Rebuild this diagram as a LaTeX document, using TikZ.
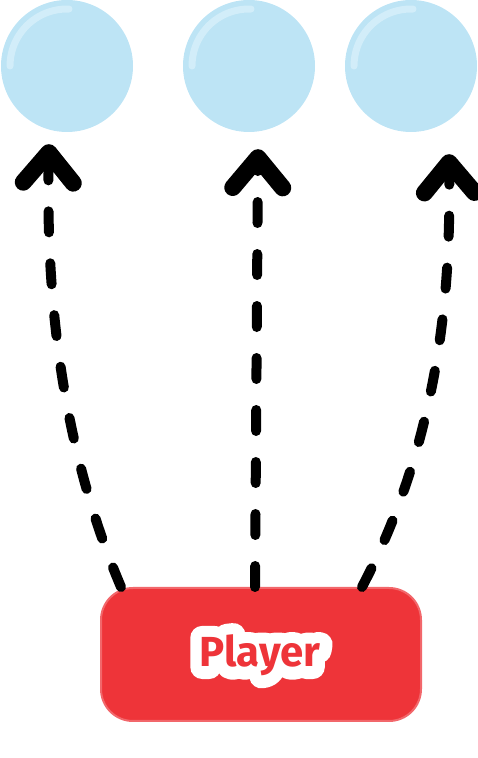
\documentclass[tikz,border=0pt]{standalone}
\usepackage{fontspec}
\newfontfamily\playerfont{Fira Sans}
\usetikzlibrary{arrows.meta}
\definecolor{bubbleblue}{RGB}{189,228,245}
\definecolor{shineblue}{RGB}{210,237,249}
\definecolor{playerred}{RGB}{238,52,57}

% outlined copy of a text, drawn as stroke only (width, colour)
\newcommand{\strokedtext}[3]{\special{pdf:code q 1 Tr #1 w 1 j 1 J #2 RG}\textcolor{white}{#3}\special{pdf:code Q}}

\begin{document}
\begin{tikzpicture}[x=1pt, y=1pt,
        bubble/.style={circle, fill=bubbleblue, minimum size=132pt, inner sep=0pt},
        shine/.style={draw=shineblue, line width=7pt, line cap=round},
        flow/.style={line width=10pt, line cap=round, dash pattern=on 21pt off 31pt,
            -{Straight Barb[length=30pt, width=50pt, line width=17pt, round]}},
        caption/.style={text=playerred, font=\playerfont\bfseries\fontsize{42}{42}\selectfont, anchor=base, inner sep=0pt}
    ]
        \useasboundingbox (0,0) rectangle (478,758);

        % Bubbles
        \node[bubble] (bubble1) at (67,692) {};
        \node[bubble] (bubble2) at (249,692) {};
        \node[bubble] (bubble3) at (411,692) {};
        \foreach \b in {bubble1,bubble2,bubble3}
            \draw[shine] (\b.center) ++(180:57) arc (180:88:57);

        % Player block
        \node[fill=playerred, draw=playerred!75, line width=2pt, rounded corners=32pt, minimum width=320pt, minimum height=133pt] (player) at (261,103.5) {};
        \node[caption] (name) at (260,91) {%
            \rlap{\strokedtext{24}{0.97 0.70 0.71}{Player}}%
            \rlap{\strokedtext{17}{1 1 1}{Player}}%
            Player};

        % Arrows
        \draw[flow] ([xshift=-140pt]player.north) .. controls (50,338) and (47,508) .. ([xshift=-18pt,yshift=-12pt]bubble1.south);
        \draw[flow] ([xshift=-6pt]player.north) -- ([xshift=9pt,yshift=-17pt]bubble2.south);
        \draw[flow] ([xshift=101pt]player.north) .. controls (450,338) and (450,508) .. ([xshift=38pt,yshift=-22pt]bubble3.south);

    \end{tikzpicture}
\end{document}
